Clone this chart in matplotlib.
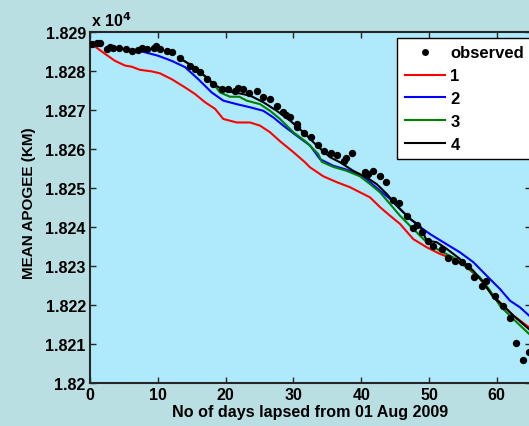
import matplotlib
matplotlib.use("Agg")
import matplotlib.pyplot as plt
from matplotlib.lines import Line2D

plt.rcParams['font.family'] = ['Liberation Sans', 'DejaVu Sans']
plt.rcParams['font.weight'] = 'bold'

# ---- data (mean apogee in units of 10^4 km) ----
obs_days = [0.25, 0.99, 1.47, 2.46, 2.95, 3.44, 4.32, 5.27, 6.24, 7.04, 7.71, 8.45, 9.44,
            9.73, 10.32, 11.31, 12.14, 13.27, 14.75, 15.49, 16.22, 17.21, 18.19, 19.42,
            20.4, 21.39, 21.87, 22.61, 23.5, 24.68, 25.47, 26.55, 27.54, 28.51, 28.91,
            29.5, 30.49, 30.58, 31.61, 32.6, 33.58, 34.51, 35.5, 36.47, 37.46, 37.76,
            38.6, 40.56, 41.05, 41.78, 42.77, 43.66, 44.73, 45.62, 46.8, 47.68, 48.19,
            48.92, 49.9, 50.63, 51.87, 52.85, 53.83, 54.82, 55.8, 56.64, 57.77, 58.41,
            59.73, 60.87, 61.95, 62.83, 63.91, 64.75]
obs_vals = [1.82869, 1.82871, 1.82871, 1.82856, 1.82861, 1.82859, 1.82859, 1.82856,
            1.82852, 1.82854, 1.82859, 1.82857, 1.82859, 1.82865, 1.82856, 1.82851,
            1.82848, 1.82833, 1.82814, 1.82805, 1.82797, 1.82779, 1.82767, 1.82754,
            1.82754, 1.82750, 1.82756, 1.82754, 1.82743, 1.82750, 1.82733, 1.82728,
            1.82711, 1.82694, 1.82688, 1.82681, 1.82664, 1.82657, 1.82640, 1.82630,
            1.82611, 1.82596, 1.82590, 1.82585, 1.82570, 1.82576, 1.82589, 1.82540,
            1.82536, 1.82543, 1.82530, 1.82516, 1.82470, 1.82462, 1.82427, 1.82397,
            1.82405, 1.82386, 1.82365, 1.82352, 1.82344, 1.82320, 1.82314, 1.82309,
            1.82301, 1.82273, 1.82249, 1.82262, 1.82222, 1.82198, 1.82166, 1.82103,
            1.82060, 1.82080]

m1_days = [0.25, 2.21, 3.69, 5.16, 6.15, 7.37, 9.10, 10.32, 12.05, 14.01, 15.49, 16.96,
           18.44, 19.66, 21.64, 23.60, 25.07, 26.55, 28.02, 29.99, 31.71, 32.45, 34.41,
           36.39, 38.35, 39.82, 41.30, 42.77, 44.25, 45.72, 47.68, 49.66, 51.62, 53.58,
           55.56, 57.52, 59.0, 60.47, 62.43, 64.75, 67.0]
m1_vals = [1.82869, 1.82844, 1.82826, 1.82814, 1.82811, 1.82803, 1.82799, 1.82794,
           1.82779, 1.82758, 1.82741, 1.82720, 1.82703, 1.82677, 1.82668, 1.82668,
           1.82660, 1.82643, 1.82620, 1.82592, 1.82566, 1.82553, 1.82530, 1.82515,
           1.82502, 1.82489, 1.82476, 1.82451, 1.82429, 1.82408, 1.82369, 1.82348,
           1.82331, 1.82318, 1.82297, 1.82267, 1.82233, 1.82207, 1.82173, 1.82143,
           1.82110]

m2_days = [6.15, 8.11, 10.07, 12.05, 14.01, 15.97, 17.95, 19.66, 21.64, 23.6, 25.56,
           27.04, 28.51, 30.49, 32.45, 33.92, 35.89, 37.86, 39.82, 41.30, 42.77, 44.25,
           45.72, 47.2, 48.67, 50.15, 52.11, 54.57, 56.53, 58.51, 60.47, 61.95, 63.42,
           64.75, 67.0]
m2_vals = [1.82856, 1.82848, 1.82839, 1.82826, 1.82810, 1.82779, 1.82745, 1.82724,
           1.82715, 1.82707, 1.82698, 1.82681, 1.82660, 1.82634, 1.82609, 1.82574,
           1.82557, 1.82547, 1.82533, 1.82515, 1.82493, 1.82472, 1.82446, 1.82421,
           1.82400, 1.82382, 1.82361, 1.82335, 1.82310, 1.82275, 1.82241, 1.82211,
           1.82194, 1.82173, 1.82140]

m3_days = [13.02, 15.0, 16.96, 18.44, 19.17, 20.65, 22.02, 23.11, 25.07, 26.55, 28.02,
           29.99, 31.96, 33.67, 34.18, 35.89, 37.86, 39.82, 41.30, 42.77, 44.25, 45.72,
           47.2, 48.67, 49.66, 51.62, 53.58, 55.56, 57.52, 59.0, 60.47, 62.43, 64.75, 67.0]
m3_vals = [1.82835, 1.82814, 1.82786, 1.82762, 1.82745, 1.82734, 1.82734, 1.82724,
           1.82715, 1.82698, 1.82677, 1.82643, 1.82617, 1.82587, 1.82567, 1.82554,
           1.82544, 1.82530, 1.82510, 1.82489, 1.82459, 1.82429, 1.82403, 1.82378,
           1.82361, 1.82339, 1.82322, 1.82297, 1.82271, 1.82237, 1.82198, 1.82164,
           1.82126, 1.82090]

m4_days = [13.02, 15.0, 16.96, 18.44, 19.9, 21.64, 23.6, 25.56, 27.54, 29.50, 31.46,
           33.44, 35.40, 36.87, 38.83, 40.81, 42.28, 43.76, 45.24, 47.2, 48.67, 49.66,
           51.13, 52.61, 54.57, 56.53, 58.01, 59.48, 60.96, 62.43, 64.75, 67.0]
m4_vals = [1.82835, 1.82814, 1.82787, 1.82764, 1.82749, 1.82744, 1.82737, 1.82720,
           1.82698, 1.82673, 1.82643, 1.82609, 1.82579, 1.82566, 1.82544, 1.82527,
           1.82510, 1.82485, 1.82455, 1.82421, 1.82403, 1.82365, 1.82361, 1.82344,
           1.82318, 1.82288, 1.82258, 1.82220, 1.82198, 1.82173, 1.82138, 1.82105]

x_ticks = [0, 10, 20, 30, 40, 50, 60]
y_ticks = [1.820, 1.821, 1.822, 1.823, 1.824, 1.825, 1.826, 1.827, 1.828, 1.829]
y_ticklabels = ['1.82', '1.821', '1.822', '1.823', '1.824', '1.825', '1.826', '1.827',
                '1.828', '1.829']
legend_labels = ['observed', '1', '2', '3', '4']

# ---- figure ----
W, H = 529, 427
fig = plt.figure(figsize=(W / 100, H / 100), dpi=100)
fig.patch.set_facecolor('#badfe2')
ax = fig.add_axes([90 / W, 43 / H, (530.7 - 90) / W, 351 / H])
ax.set_facecolor('#aeeafb')

ax.plot(m1_days, m1_vals, color='#ff0000', lw=1.5)
ax.plot(m2_days, m2_vals, color='#0000ff', lw=1.5)
ax.plot(m3_days, m3_vals, color='#008000', lw=1.5)
ax.plot(m4_days, m4_vals, color='#000000', lw=1.5)
ax.plot(obs_days, obs_vals, 'o', color='black', ms=5.3, mec='none', zorder=5)

ax.set_xlim(0, 65)
ax.set_ylim(1.820, 1.829)
ax.set_xticks(x_ticks)
ax.set_xticklabels([str(t) for t in x_ticks])
ax.set_yticks(y_ticks)
ax.set_yticklabels(y_ticklabels)
ax.tick_params(direction='in', length=4, width=1, top=True, right=True,
               labelsize=11.6, colors='#262626', pad=3)
for lbl in ax.get_xticklabels() + ax.get_yticklabels():
    lbl.set_fontweight('bold')
    lbl.set_color('black')
for sp in ax.spines.values():
    sp.set_linewidth(1.5)
    sp.set_color('#262626')

ax.set_xlabel('No of days lapsed from 01 Aug 2009', fontsize=11.6, fontweight='bold',
              labelpad=1)
ax.set_ylabel('MEAN APOGEE (KM)', fontsize=11, fontweight='bold', labelpad=6)
ax.yaxis.set_label_coords(-54 / 440.7, 0.515)
fig.text(91 / W, 1 - 27 / H, 'x 10$^{4}$', fontsize=11.5, fontweight='bold',
         ha='left', va='baseline')

handles = [Line2D([], [], marker='o', ls='none', color='black', ms=5, mec='none'),
           Line2D([], [], color='#ff0000', lw=1.5),
           Line2D([], [], color='#0000ff', lw=1.5),
           Line2D([], [], color='#008000', lw=1.5),
           Line2D([], [], color='#000000', lw=1.5)]
leg = ax.legend(handles, legend_labels, loc='upper left',
                bbox_to_anchor=(397 / W, 1 - 39 / H), bbox_transform=fig.transFigure,
                prop={'weight': 'bold', 'size': 12}, frameon=True, fancybox=False,
                framealpha=1, edgecolor='black', handlelength=2.45, handletextpad=0.3,
                labelspacing=0.47, borderpad=0.45, borderaxespad=0)
leg.get_frame().set_linewidth(1.0)

fig.savefig('out.png', dpi=100, facecolor=fig.get_facecolor())
